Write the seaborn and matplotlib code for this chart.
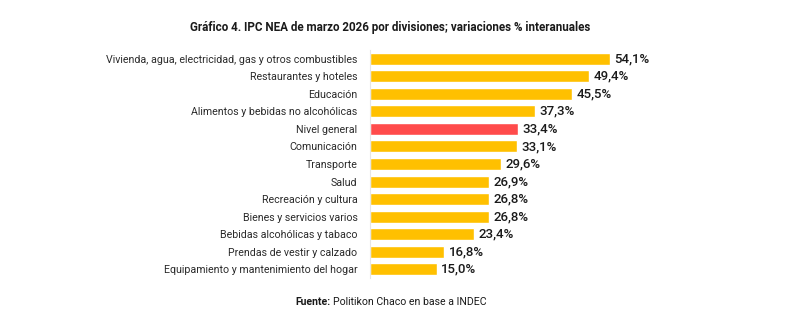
import matplotlib
matplotlib.use("Agg")
import matplotlib.pyplot as plt
import seaborn as sns
import pandas as pd
from matplotlib import font_manager as fm

categories = [
    "Vivienda, agua, electricidad, gas y otros combustibles",
    "Restaurantes y hoteles",
    "Educación",
    "Alimentos y bebidas no alcohólicas",
    "Nivel general",
    "Comunicación",
    "Transporte",
    "Salud",
    "Recreación y cultura",
    "Bienes y servicios varios",
    "Bebidas alcohólicas y tabaco",
    "Prendas de vestir y calzado",
    "Equipamiento y mantenimiento del hogar",
]
values = [54.1, 49.4, 45.5, 37.3, 33.4, 33.1, 29.6, 26.9, 26.8, 26.8, 23.4, 16.8, 15.0]
value_labels = ["54,1%", "49,4%", "45,5%", "37,3%", "33,4%", "33,1%", "29,6%",
                "26,9%", "26,8%", "26,8%", "23,4%", "16,8%", "15,0%"]
groups = ["Nivel general" if c == "Nivel general" else "División" for c in categories]

df = pd.DataFrame({"cat": categories, "val": values, "grp": groups})

sns.set_theme(style="white")
names = {f.name for f in fm.fontManager.ttflist}
fam = "Liberation Sans Narrow" if "Liberation Sans Narrow" in names else "Roboto"
plt.rcParams["font.family"] = [fam, "DejaVu Sans"]

fig = plt.figure(figsize=(7.85, 3.34), dpi=100)
ax = fig.add_axes([370/785, 1-278/334, 266/785, 228/334])

palette = {"División": "#FFC000", "Nivel general": "#FF4B4B"}
sns.barplot(data=df, y="cat", x="val", hue="grp", palette=palette, dodge=False,
            order=categories, width=0.68, legend=False, ax=ax, saturation=1)

for i, (v, lab) in enumerate(zip(values, value_labels)):
    ax.text(v + 1.0, i, lab, va="center", ha="left", fontsize=9.5,
            fontweight="medium", color="#1a1a1a")

ax.set_xlim(0, 60)
ax.set_ylim(12.5, -0.5)
ax.set_xlabel("")
ax.set_ylabel("")
ax.set_xticks([])
ax.tick_params(axis="y", length=0, pad=9, labelsize=7.7, labelcolor="#2a2a2a")
for s in ["top", "right", "bottom"]:
    ax.spines[s].set_visible(False)
ax.spines["left"].set_color("#e6e6e6")
ax.spines["left"].set_linewidth(0.8)

fig.text(390/785, 1-27/334, "Gráfico 4. IPC NEA de marzo 2026 por divisiones; variaciones % interanuales",
         ha="center", va="center", fontsize=8.4, fontweight="bold", color="#1a1a1a")

fs = 7.6
t1 = fig.text(0, 1-302/334, "Fuente:", ha="left", va="center", fontsize=fs,
              fontweight="bold", color="#1a1a1a")
t2 = fig.text(0, 1-302/334, "Politikon Chaco en base a INDEC", ha="left",
              va="center", fontsize=fs, color="#1a1a1a")
fig.canvas.draw()
w1 = t1.get_window_extent().width
w2 = t2.get_window_extent().width
gap = 3
x0 = 391 - (w1 + gap + w2) / 2
t1.set_x(x0/785)
t2.set_x((x0 + w1 + gap)/785)

fig.savefig("out.png", dpi=100)
